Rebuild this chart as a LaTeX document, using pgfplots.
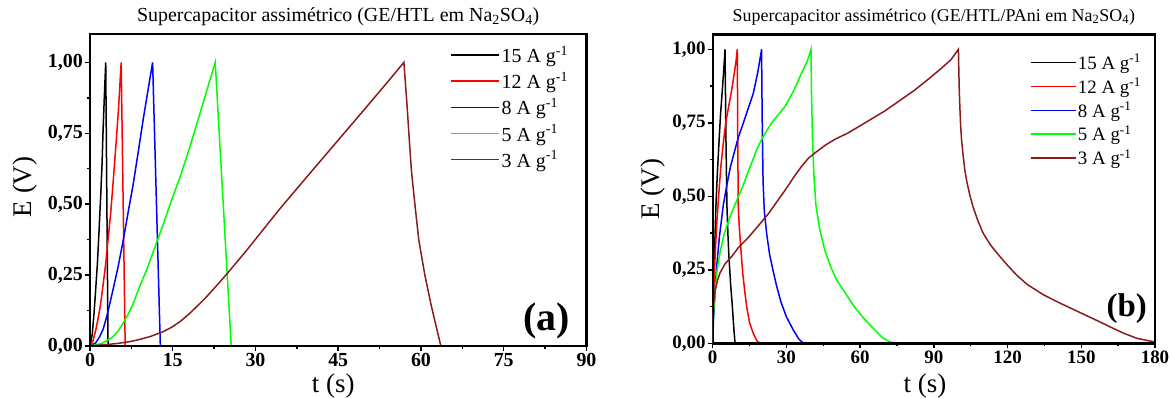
\documentclass[border=0pt]{standalone}
\usepackage{fontspec}
\setmainfont{Liberation Serif}
\usepackage{pgfplots}
\pgfplotsset{compat=1.18}

\definecolor{c15}{RGB}{0,0,0}
\definecolor{c12}{RGB}{255,0,0}
\definecolor{c8}{RGB}{0,0,255}
\definecolor{c5}{RGB}{0,255,0}
\definecolor{c3}{RGB}{139,26,26}

% Shared look of both galvanostatic charge-discharge panels
\pgfplotsset{
  gcd/.style={
    scale only axis,
    anchor=south west,
    axis lines=box,
    axis line style={line width=2.4bp, black},
    every tick/.style={line width=1.5bp, black},
    major tick length=5bp, minor tick length=3bp,
    tick align=outside, tick pos=left,
    /pgf/number format/assume math mode=true,
    tick label style={inner sep=2bp},
    ymin=0, xmin=0,
    ytick={0,0.25,0.5,0.75,1},
    yticklabels={{0,00},{0,25},{0,50},{0,75},{1,00}},
    minor y tick num=1, minor x tick num=1,
    xlabel={t (s)}, ylabel={E (V)},
    label style={font=\fontsize{27}{27}\selectfont},
    legend cell align=left,
    every axis plot/.append style={line width=1.5bp},
  }
}

\begin{document}
\begin{tikzpicture}
\useasboundingbox (0,0) rectangle (1170bp,398bp);

% ---------------- (a) GE/HTL ----------------
\begin{axis}[gcd,
  at={(90bp,52bp)}, width=496.5bp, height=312bp,
  xmax=90, ymax=1.1,
  xtick={0,15,30,45,60,75,90},
  tick label style={font=\fontsize{20}{20}\selectfont\bfseries},
  title={Supercapacitor assimétrico (GE/HTL em Na\textsubscript{2}SO\textsubscript{4})},
  title style={at={(0.5,1)}, anchor=base, yshift=7bp, font=\fontsize{20}{20}\selectfont},
  xlabel style={at={(axis description cs:0.49,-0.128)}, anchor=center},
  ylabel style={at={(axis description cs:-0.13,0.51)}, anchor=center},
  legend style={at={(0.72,0.974)}, anchor=north west, draw=none, fill=none,
    font=\fontsize{20}{20}\selectfont, row sep=5bp,
    nodes={inner sep=1.5bp}},
  legend image code/.code={\draw[#1, line width=1.5bp] (0bp,0bp) -- (48bp,0bp);},
]
\addplot[c15] coordinates {(0,0) (0.4,0.04) (0.73,0.115) (1.0,0.19) (1.34,0.29) (1.65,0.41) (1.94,0.53) (2.2,0.65) (2.37,0.76) (2.6,0.88) (2.85,1.0) (3.27,0.0)};
\addlegendentry{15 A g\textsuperscript{-1}}
\addplot[c12] coordinates {(0,0) (0.5,0.015) (1.04,0.056) (1.5,0.1) (1.94,0.15) (2.4,0.22) (2.85,0.29) (3.3,0.38) (3.76,0.47) (4.2,0.58) (4.67,0.70) (5.15,0.83) (5.65,1.0) (6.38,0.0)};
\addlegendentry{12 A g\textsuperscript{-1}}
\addplot[c8] coordinates {(0,0) (1.0,0.01) (1.76,0.033) (2.4,0.06) (2.97,0.10) (3.6,0.15) (4.19,0.2) (5.1,0.28) (6.0,0.37) (6.9,0.47) (7.83,0.57) (8.75,0.685) (9.65,0.80) (10.5,0.90) (11.35,1.0) (12.75,0.0)};
\addlegendentry{8 A g\textsuperscript{-1}}
\addplot[c5] coordinates {(0,0) (2,0.008) (3,0.018) (4.19,0.033) (5,0.05) (6.0,0.08) (7,0.115) (7.83,0.15) (9,0.21) (10.3,0.27) (11.8,0.35) (13.3,0.43) (14.8,0.515) (16.4,0.60) (17.9,0.69) (19.4,0.785) (21,0.89) (22.7,1.0) (25.6,0.0)};
\addlegendentry{5 A g\textsuperscript{-1}}
\addplot[c3] coordinates {(0,0) (3,0.005) (5,0.009) (7.1,0.015) (9,0.023) (11,0.034) (13.2,0.05) (14.8,0.066) (16.4,0.087) (17.9,0.112) (19.4,0.14) (21,0.171) (22.5,0.203) (24,0.236) (25.5,0.27) (27,0.305) (28.5,0.34) (31.5,0.413) (34.6,0.488) (40,0.612) (45,0.726) (50,0.84) (54,0.932) (56.9,1.0) (57.2,0.92) (57.5,0.84) (57.9,0.72) (58.3,0.61) (59.0,0.48) (59.6,0.374) (60.7,0.25) (61.9,0.139) (62.8,0.065) (63.6,0.0)};
\addlegendentry{3 A g\textsuperscript{-1}}
\draw[line width=2.4bp] (rel axis cs:0,0) rectangle (rel axis cs:1,1);
\node[font=\fontsize{40}{40}\selectfont\bfseries] at (rel axis cs:0.92,0.08) {(a)};
\end{axis}

% ---------------- (b) GE/HTL/PAni ----------------
\begin{axis}[gcd,
  at={(712.7bp,54.7bp)}, width=442.3bp, height=308.7bp,
  xmax=180, ymax=1.05,
  xtick={0,30,60,90,120,150,180},
  tick label style={font=\fontsize{19}{19}\selectfont\bfseries},
  title={Supercapacitor assimétrico (GE/HTL/PAni em Na\textsubscript{2}SO\textsubscript{4})},
  title style={at={(0.5,1)}, anchor=base, yshift=7.5bp, font=\fontsize{18}{18}\selectfont},
  xlabel style={at={(axis description cs:0.48,-0.14)}, anchor=center},
  ylabel style={at={(axis description cs:-0.135,0.5)}, anchor=center},
  legend style={at={(0.71,0.949)}, anchor=north west, draw=none, fill=none,
    font=\fontsize{19}{19}\selectfont, row sep=4.5bp,
    nodes={inner sep=1.5bp}},
  legend image code/.code={\draw[#1, line width=1.5bp] (0bp,0bp) -- (45bp,0bp);},
]
\addplot[c15] coordinates {(0,0) (0.2,0.12) (0.5,0.238) (0.9,0.35) (1.3,0.465) (1.9,0.58) (2.6,0.69) (3.2,0.78) (3.9,0.86) (4.5,0.93) (5.0,1.0) (5.2,0.85) (5.4,0.69) (5.8,0.465) (6.2,0.37) (6.6,0.295) (7.3,0.2) (8.0,0.125) (8.6,0.05) (9.1,0.0)};
\addlegendentry{15 A g\textsuperscript{-1}}
\addplot[c12] coordinates {(0,0) (0.2,0.1) (0.5,0.2) (1.0,0.3) (1.6,0.4) (2.4,0.5) (3.3,0.6) (4.3,0.68) (5.3,0.75) (6.6,0.81) (7.7,0.86) (8.8,0.92) (9.5,0.96) (10.0,1.0) (10.1,0.85) (10.2,0.69) (10.4,0.465) (10.8,0.4) (11.2,0.35) (12.2,0.24) (13.0,0.18) (13.8,0.125) (15.0,0.07) (16.5,0.034) (18.0,0.008) (19.3,0.0)};
\addlegendentry{12 A g\textsuperscript{-1}}
\addplot[c8] coordinates {(0,0) (0.3,0.08) (0.8,0.15) (1.5,0.25) (2.7,0.36) (4.3,0.47) (5.8,0.54) (7.2,0.6) (8.8,0.65) (10.4,0.7) (12.5,0.75) (14.5,0.8) (16.5,0.85) (18.3,0.92) (19.9,1.0) (20.0,0.88) (20.2,0.72) (20.5,0.55) (21.0,0.45) (22.0,0.37) (23.2,0.3) (24.5,0.25) (26.0,0.195) (27.8,0.14) (30.0,0.09) (32.8,0.045) (35.0,0.015) (36.5,0.003) (37.5,0.0) (40.0,0.0)};
\addlegendentry{8 A g\textsuperscript{-1}}
\addplot[c5] coordinates {(0,0) (0.3,0.1) (0.9,0.17) (1.8,0.25) (3,0.31) (4.6,0.37) (7,0.43) (9.5,0.48) (12.5,0.54) (15.2,0.6) (18,0.66) (20.3,0.70) (24,0.75) (29.4,0.805) (33,0.86) (36.2,0.92) (38.5,0.96) (40,1.0) (40.2,0.85) (40.6,0.7) (41.2,0.57) (42,0.47) (43.5,0.39) (45.5,0.32) (48,0.26) (50.5,0.215) (54,0.17) (58,0.12) (62,0.08) (66,0.045) (69,0.02) (72,0.005) (75,0.0) (80,0.0)};
\addlegendentry{5 A g\textsuperscript{-1}}
\addplot[c3] coordinates {(0,0) (0.1,0.07) (0.3,0.13) (1,0.18) (2,0.215) (3,0.24) (5,0.27) (7.7,0.295) (10.4,0.325) (14.5,0.36) (18.6,0.40) (22.6,0.44) (26,0.48) (29.4,0.52) (33,0.565) (36,0.6) (39,0.63) (42,0.65) (46,0.675) (50,0.695) (55,0.715) (60,0.74) (65,0.765) (70,0.79) (76,0.825) (82,0.86) (88,0.9) (93,0.935) (97,0.965) (100,1.0) (100.15,0.93) (100.35,0.86) (100.6,0.8) (100.9,0.74) (101.3,0.69) (101.9,0.64) (102.6,0.59) (103.4,0.55) (104.6,0.505) (106.1,0.46) (108,0.415) (110.1,0.374) (113,0.335) (116.9,0.295) (120,0.265) (123.7,0.232) (128,0.2) (134.6,0.165) (141,0.138) (148.1,0.11) (155,0.083) (161.7,0.056) (167,0.035) (172.6,0.017) (179.6,0.005)};
\addlegendentry{3 A g\textsuperscript{-1}}
\draw[line width=2.4bp] (rel axis cs:0,0) rectangle (rel axis cs:1,1);
\node[font=\fontsize{33}{33}\selectfont\bfseries] at (rel axis cs:0.936,0.114) {(b)};
\end{axis}
\end{tikzpicture}
\end{document}
